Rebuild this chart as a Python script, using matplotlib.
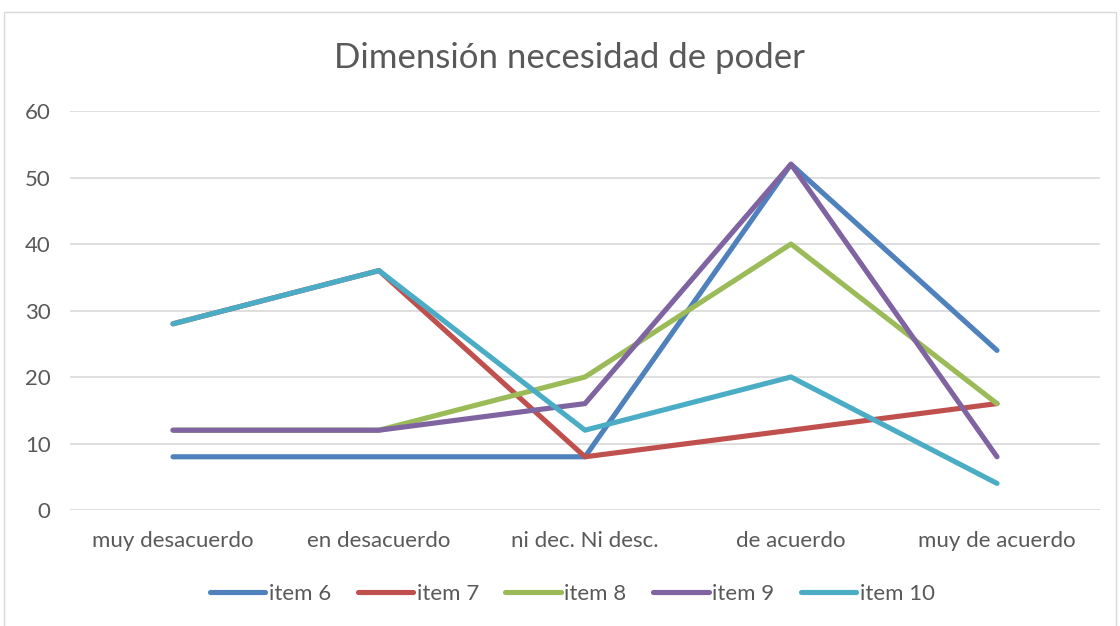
import matplotlib.pyplot as plt
from matplotlib.patches import Rectangle

categories = ["muy desacuerdo", "en desacuerdo", "ni dec. Ni desc.", "de acuerdo", "muy de acuerdo"]
item6 = [8, 8, 8, 52, 24]
item7 = [28, 36, 8, 12, 16]
item8 = [12, 12, 20, 40, 16]
item9 = [12, 12, 16, 52, 8]
item10 = [28, 36, 12, 20, 4]
series = [("item 6", item6, "#4F81BD"), ("item 7", item7, "#C0504D"),
          ("item 8", item8, "#9BBB59"), ("item 9", item9, "#8064A2"),
          ("item 10", item10, "#4BACC6")]

plt.rcParams['font.family'] = ['Lato', 'DejaVu Sans']
txt = "#595959"

fig = plt.figure(figsize=(11.2, 6.26), dpi=100)
fig.patches.append(Rectangle((4 / 1120, -0.1), 1112 / 1120, 1.1 - 12 / 626,
                             transform=fig.transFigure, fill=False,
                             edgecolor="#D9D9D9", linewidth=1))
ax = fig.add_axes([70 / 1120, 1 - 510 / 626, 1030 / 1120, 399 / 626])

x = range(len(categories))
for name, vals, col in series:
    ax.plot(x, vals, color=col, linewidth=3.7, solid_capstyle="round",
            solid_joinstyle="round", label=name)

ax.set_xlim(-0.5, len(categories) - 0.5)
ax.set_ylim(0, 60)
ax.set_yticks(range(0, 61, 10))
ax.set_xticks(list(x))
ax.set_xticklabels(categories)
ax.grid(axis="y", color="#D9D9D9", linewidth=1.2)
ax.set_axisbelow(True)
for s in ax.spines.values():
    s.set_visible(False)
ax.tick_params(length=0, labelsize=16, labelcolor=txt)
ax.tick_params(axis="x", pad=15)
ax.tick_params(axis="y", pad=14)

fig.text(0.508, 1 - 58 / 626, "Dimensión necesidad de poder", ha="center",
         va="center", fontsize=25, color=txt)

fig.legend(loc="center", bbox_to_anchor=(0.511, 1 - 594 / 626), ncol=5,
           frameon=False, fontsize=16, labelcolor=txt, handlelength=2.5,
           handletextpad=0.15, columnspacing=1.2)

fig.savefig("out.png", dpi=100)
